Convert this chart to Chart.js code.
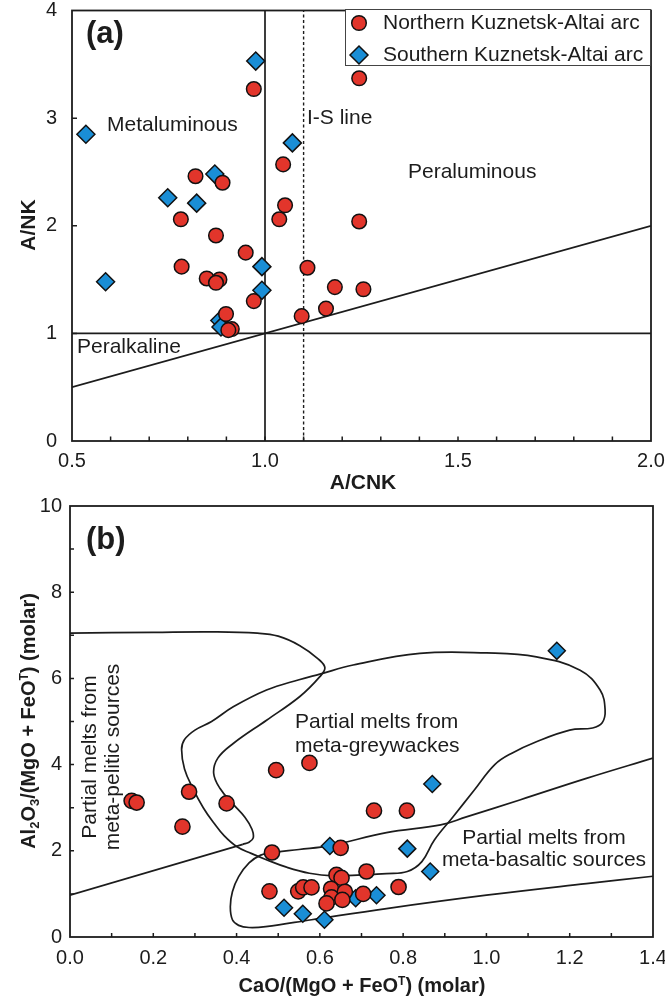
<!DOCTYPE html>
<html><head><meta charset="utf-8">
<script src="https://cdn.jsdelivr.net/npm/chart.js@4/dist/chart.umd.min.js"></script>
<style>
html,body{margin:0;padding:0;background:#fff;}
#ca{position:absolute;left:0;top:0;}
#cb{position:absolute;left:0;top:493px;}
</style></head><body>
<canvas id="ca" width="665" height="493"></canvas>
<canvas id="cb" width="665" height="507"></canvas>
<script>
// ---------- Panel (a): A/CNK vs A/NK ----------
const northA_x = [0.971,1.244,1.047,0.820,0.890,1.052,1.037,0.782,0.873,1.244,0.950,1.110,0.784,0.849,0.882,0.873,1.181,1.255,0.971,1.095,1.158,0.899,0.914,0.905];
const northA_y = [3.27,3.37,2.57,2.46,2.40,2.19,2.06,2.06,1.91,2.04,1.75,1.61,1.62,1.51,1.50,1.47,1.43,1.41,1.30,1.16,1.23,1.18,1.04,1.03];
const southA_x = [0.976,0.536,1.071,0.870,0.748,0.823,0.992,0.587,0.992,0.883,0.886];
const southA_y = [3.53,2.85,2.77,2.48,2.26,2.21,1.62,1.48,1.40,1.12,1.06];
const aXTicks = ['0.5','1.0','1.5','2.0'];
// reference lines of panel (a)
const peralkX = [0.5, 2.0], peralkY = [1, 1];
const metalX = [1.0, 1.0], metalY = [0, 4];
const isLineX = [1.1, 1.1], isLineY = [0, 4];
const diagX = [0.5, 2.0], diagY = [0.5, 2.0];

// ---------- Panel (b): CaO/(MgO+FeOT) vs Al2O3/(MgO+FeOT) ----------
const northB_x = [0.148,0.160,0.286,0.270,0.376,0.495,0.575,0.730,0.809,0.650,0.485,0.712,0.640,0.652,0.479,0.548,0.560,0.580,0.789,0.627,0.628,0.660,0.654,0.616,0.704];
const northB_y = [3.16,3.12,3.37,2.56,3.10,3.87,4.04,2.93,2.93,2.07,1.96,1.52,1.44,1.37,1.06,1.06,1.15,1.15,1.16,1.12,0.92,1.05,0.86,0.78,1.00];
const southB_x = [1.169,0.870,0.624,0.810,0.865,0.736,0.686,0.514,0.559,0.611];
const southB_y = [6.64,3.55,2.11,2.05,1.52,0.97,0.90,0.68,0.54,0.40];
// field boundaries of panel (b)
const pelX = [0.0,0.20,0.344,0.45,0.50,0.552,0.595,0.612,0.60,0.552,0.472,0.392,0.355,0.345,0.36,0.39,0.42,0.437,0.44,0.43,0.415];
const pelY = [7.05,7.07,7.08,7.05,6.98,6.76,6.46,6.25,6.04,5.58,5.03,4.49,4.15,3.80,3.45,3.10,2.78,2.50,2.30,2.20,2.15];
const pelBaseX = [0.415, 0.0];
const pelBaseY = [2.15, 0.97];
const gwX = [0.60,0.68,0.84,1.00,1.12,1.225,1.273,1.285,1.278,1.255,1.20,1.12,1.06,1.02,0.97,0.92,0.875,0.845,0.81,0.76,0.70,0.632,0.575,0.52,0.47,0.435,0.40,0.37,0.345,0.32,0.295,0.275,0.268,0.275,0.30,0.34,0.392,0.472,0.55,0.60];
const gwY = [6.10,6.31,6.58,6.59,6.50,6.19,5.73,5.27,4.97,4.85,4.80,4.53,4.26,4.00,3.40,2.79,2.25,1.75,1.52,1.47,1.44,1.42,1.48,1.62,1.80,1.94,2.10,2.35,2.65,3.00,3.45,3.90,4.35,4.58,4.80,5.00,5.34,5.73,5.97,6.10];
const bsX = [1.40,1.24,1.08,0.95,0.89,0.76,0.624,0.55,0.487,0.458,0.43,0.405,0.39,0.385,0.39,0.405,0.43,0.47,0.58,0.76,1.00,1.24,1.40];
const bsY = [4.15,3.68,3.18,2.78,2.60,2.42,2.12,2.03,1.96,1.90,1.72,1.40,1.05,0.70,0.40,0.27,0.22,0.24,0.40,0.66,0.97,1.24,1.41];

// ---------- styling ----------
const FONT = '"Liberation Sans", Arial, Helvetica, sans-serif';
const RED = '#e2352b', BLUE = '#1a8ed6', INK = '#1c1c1c';

function pts(xs, ys) { return xs.map((x, i) => ({ x: x, y: ys[i] })); }
function markerDS(label, xs, ys, style, color, r, order) {
  return { label: label, data: pts(xs, ys), showLine: false, pointStyle: style,
    pointRadius: r, pointHoverRadius: r, backgroundColor: color, borderColor: '#111',
    borderWidth: 1.5, pointBorderWidth: 1.5, order: order };
}
function lineDS(xs, ys, extra) {
  return Object.assign({ label: '', data: pts(xs, ys), showLine: true, pointRadius: 0,
    pointHoverRadius: 0, borderColor: INK, backgroundColor: INK, borderWidth: 1.7,
    fill: false, tension: 0, order: 10 }, extra || {});
}
function txt(ctx, s, x, y, font, align) {
  ctx.font = font; ctx.fillStyle = INK; ctx.textAlign = align || 'left';
  ctx.textBaseline = 'middle'; ctx.fillText(s, x, y);
}
function frameTicks(chart, xLen, yLen) {
  const ctx = chart.ctx, a = chart.chartArea, xs = chart.scales.x, ys = chart.scales.y;
  ctx.save(); ctx.strokeStyle = INK; ctx.lineWidth = 1.5; ctx.beginPath();
  xs.ticks.forEach(t => {
    const p = xs.getPixelForValue(t.value);
    if (p <= a.left + 1 || p >= a.right - 1) return;
    ctx.moveTo(p, a.bottom); ctx.lineTo(p, a.bottom - xLen);
  });
  ys.ticks.forEach(t => {
    const p = ys.getPixelForValue(t.value);
    if (p <= a.top + 1 || p >= a.bottom - 1) return;
    ctx.moveTo(a.left, p); ctx.lineTo(a.left + yLen, p);
  });
  ctx.stroke();
  ctx.lineWidth = 1.8; ctx.strokeRect(a.left, a.top, a.right - a.left, a.bottom - a.top);
  ctx.restore();
}
function rich(ctx, segs, cx, cy, rot) {
  ctx.save(); ctx.translate(cx, cy); if (rot) ctx.rotate(rot);
  let total = 0;
  segs.forEach(s => { ctx.font = 'bold ' + s[1] + 'px ' + FONT; s.w = ctx.measureText(s[0]).width; total += s.w; });
  let x = -total / 2; ctx.textAlign = 'left'; ctx.textBaseline = 'alphabetic'; ctx.fillStyle = INK;
  segs.forEach(s => { ctx.font = 'bold ' + s[1] + 'px ' + FONT; ctx.fillText(s[0], x, s[2]); x += s.w; });
  ctx.restore();
}

const panelA = {
  id: 'panelA',
  afterDraw(chart) {
    const ctx = chart.ctx;
    frameTicks(chart, 4.5, 5);
    txt(ctx, '(a)', 86, 34, 'bold 31px ' + FONT);
    txt(ctx, 'Metaluminous', 107, 125, '21px ' + FONT);
    txt(ctx, 'I-S line', 307, 118, '21px ' + FONT);
    txt(ctx, 'Peraluminous', 408, 172, '21px ' + FONT);
    txt(ctx, 'Peralkaline', 77, 347, '21px ' + FONT);
    txt(ctx, 'A/CNK', 363, 483, 'bold 21px ' + FONT, 'center');
    ctx.save(); ctx.translate(29, 225); ctx.rotate(-Math.PI / 2);
    txt(ctx, 'A/NK', 0, 0, 'bold 21px ' + FONT, 'center'); ctx.restore();
    // legend
    const ds = chart.data.datasets;
    ctx.save(); ctx.fillStyle = '#fff'; ctx.fillRect(345, 9, 306, 56);
    ctx.strokeStyle = '#444'; ctx.lineWidth = 1; ctx.strokeRect(345.5, 9.5, 305, 56);
    ctx.lineWidth = 1.5; ctx.strokeStyle = '#111';
    ctx.beginPath(); ctx.arc(359, 23, 7.3, 0, Math.PI * 2); ctx.fillStyle = ds[0].backgroundColor; ctx.fill(); ctx.stroke();
    ctx.beginPath(); ctx.moveTo(350, 55); ctx.lineTo(359, 46); ctx.lineTo(368, 55); ctx.lineTo(359, 64); ctx.closePath();
    ctx.fillStyle = ds[1].backgroundColor; ctx.fill(); ctx.stroke(); ctx.restore();
    txt(ctx, ds[0].label, 383, 23, '21px ' + FONT);
    txt(ctx, ds[1].label, 383, 55, '21px ' + FONT);
  }
};

const panelB = {
  id: 'panelB',
  afterDraw(chart) {
    const ctx = chart.ctx;
    frameTicks(chart, 4, 4);
    txt(ctx, '(b)', 86, 47, 'bold 31px ' + FONT);
    txt(ctx, 'Partial melts from', 295, 229, '21px ' + FONT);
    txt(ctx, 'meta-greywackes', 295, 253, '21px ' + FONT);
    txt(ctx, 'Partial melts from', 544, 345, '21px ' + FONT, 'center');
    txt(ctx, 'meta-basaltic sources', 544, 367, '21px ' + FONT, 'center');
    ctx.save(); ctx.translate(90, 264); ctx.rotate(-Math.PI / 2);
    txt(ctx, 'Partial melts from', 0, 0, '21px ' + FONT, 'center');
    txt(ctx, 'meta-pelitic sources', 0, 23, '21px ' + FONT, 'center');
    ctx.restore();
    rich(ctx, [['CaO/(MgO + FeO', 20, 7], ['T', 12, 0], [') (molar)', 20, 7]], 362, 492, 0);
    rich(ctx, [['Al', 20, 7], ['2', 13, 11], ['O', 20, 7], ['3', 13, 11], ['/(MgO + FeO', 20, 7], ['T', 12, 0], [') (molar)', 20, 7]], 28, 228, -Math.PI / 2);
  }
};

function baseOptions(o) {
  return {
    responsive: false, animation: false, events: [],
    layout: { padding: o.pad },
    plugins: { legend: { display: false }, tooltip: { enabled: false } },
    scales: {
      x: { type: 'linear', min: o.xmin, max: o.xmax,
        afterFit(s) { s.height = o.xh; s.paddingLeft = 0; s.paddingRight = 0; },
        grid: { display: false, drawTicks: false }, border: { display: false },
        ticks: { stepSize: o.xstep, autoSkip: false, maxRotation: 0, minRotation: 0, padding: o.xpad,
          color: INK, font: { family: FONT, size: 20 }, callback: o.xcb } },
      y: { type: 'linear', min: o.ymin, max: o.ymax,
        afterFit(s) { s.width = o.yw; s.paddingTop = 0; s.paddingBottom = 0; },
        grid: { display: false, drawTicks: false }, border: { display: false },
        ticks: { stepSize: o.ystep, autoSkip: false, padding: o.ypad,
          color: INK, font: { family: FONT, size: 20 }, callback: o.ycb } }
    }
  };
}

new Chart(document.getElementById('ca'), {
  type: 'scatter',
  data: { datasets: [
    markerDS('Northern Kuznetsk-Altai arc', northA_x, northA_y, 'circle', RED, 7.3, 0),
    markerDS('Southern Kuznetsk-Altai arc', southA_x, southA_y, 'rectRot', BLUE, 9, 1),
    lineDS(peralkX, peralkY), lineDS(metalX, metalY),
    lineDS(isLineX, isLineY, { borderDash: [3, 2.5], borderWidth: 1.4 }),
    lineDS(diagX, diagY)
  ] },
  options: baseOptions({ pad: { top: 9, right: 14, left: 0, bottom: 0 }, xmin: 0.5, xmax: 2.0, xstep: 0.1, xh: 52, xpad: 8,
    xcb: v => { const r = Math.round(v * 10); return r % 5 === 0 ? aXTicks[(r - 5) / 5] : ''; },
    ymin: 0, ymax: 4, ystep: 1, yw: 72, ypad: 15, ycb: v => String(v) }),
  plugins: [panelA]
});

new Chart(document.getElementById('cb'), {
  type: 'scatter',
  data: { datasets: [
    markerDS('Northern Kuznetsk-Altai arc', northB_x, northB_y, 'circle', RED, 7.6, 0),
    markerDS('Southern Kuznetsk-Altai arc', southB_x, southB_y, 'rectRot', BLUE, 8.5, 1),
    lineDS(pelX, pelY, { tension: 0.4 }), lineDS(pelBaseX, pelBaseY),
    lineDS(gwX, gwY, { tension: 0.4 }), lineDS(bsX, bsY, { tension: 0.4 })
  ] },
  options: baseOptions({ pad: { top: 13, right: 12, left: 0, bottom: 0 }, xmin: 0, xmax: 1.4, xstep: 0.1, xh: 63, xpad: 9,
    xcb: v => { const r = Math.round(v * 10); return r % 2 === 0 ? (r / 10).toFixed(1) : ''; },
    ymin: 0, ymax: 10, ystep: 1, yw: 70, ypad: 8, ycb: v => (Math.round(v) % 2 === 0 ? String(v) : '') }),
  plugins: [panelB]
});
</script>
</body></html>
